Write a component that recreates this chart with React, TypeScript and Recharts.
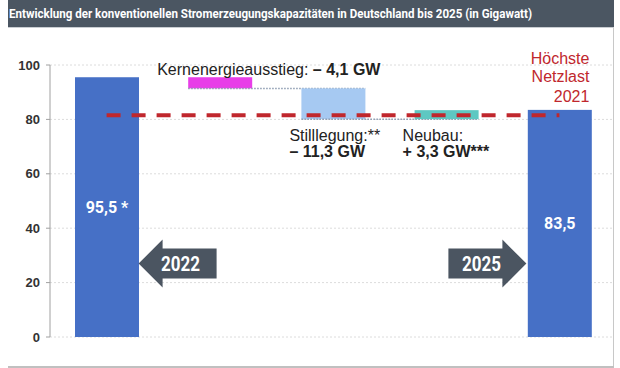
import { BarChart, Bar, XAxis, YAxis, CartesianGrid, Cell, LabelList, ReferenceLine, ReferenceDot } from "recharts";

const categories = ["2022", "Kernenergieausstieg", "Stilllegung", "Neubau", "2025"];
const start2022 = 95.5;
const end2025 = 83.5;
const stepChanges = [-4.1, -11.3, 3.3];
const stepTitles = ["Kernenergieausstieg: ", "Stilllegung:**", "Neubau:"];
const stepAmounts = ["– 4,1 GW", "– 11,3 GW", "+ 3,3 GW***"];
const totalLabels = ["95,5 *", "83,5"];
const yearArrows = [
  { year: "2022", y: 27 },
  { year: "2025", y: 27 },
];
const peakLoad2021 = 81.5;
const peakLoadLabel = ["Höchste", "Netzlast", "2021"];
const yTicks = [0, 20, 40, 60, 80, 100];
const barColors = ["#4670c6", "#e83ee8", "#a6c9f2", "#5ec8c2", "#4670c6"];
const title = "Entwicklung der konventionellen Stromerzeugungskapazitäten in Deutschland bis 2025 (in Gigawatt)";

// waterfall rows: invisible base + visible part
const rows = (() => {
  const out = [{ name: categories[0], base: 0, size: start2022 }];
  let level = start2022;
  stepChanges.forEach((c, i) => {
    const next = level + c;
    out.push({ name: categories[i + 1], base: Math.min(level, next), size: Math.abs(c) });
    level = next;
  });
  out.push({ name: categories[4], base: 0, size: end2025 });
  return out;
})();

const W = 620;
const H = 368;
const M = { top: 65, right: 4, bottom: 31, left: 0 };
const AXIS_W = 50;
const BAR = 64;
const band = (W - M.left - M.right - AXIS_W) / categories.length;

const cond = "Roboto, 'DejaVu Sans Condensed', sans-serif";
const sans = "'Liberation Sans', Arial, sans-serif";

function WaterfallShape(props: any) {
  const { x, y, width, height, index, fill } = props;
  const hasConnector = index >= 1 && index <= 2;
  const bottom = y + height;
  return (
    <g>
      <rect x={x} y={y} width={width} height={height} fill={fill} />
      {hasConnector && (
        <line x1={x} x2={x + width + band} y1={bottom} y2={bottom} stroke="#8a9ab0" strokeWidth={1.5} strokeDasharray="1.5 1.5" />
      )}
    </g>
  );
}

function renderLabels(props: any) {
  const { x, y, width, height, index } = props;
  if (index === 0 || index === 4) {
    const t = totalLabels[index === 0 ? 0 : 1];
    return (
      <text x={x + width / 2} y={y + height / 2 + 6} textAnchor="middle" fill="#fff" fontFamily={cond} fontWeight="bold" fontSize={16}>
        {t}
      </text>
    );
  }
  const i = index - 1;
  if (i === 0) {
    return (
      <text x={x - 31} y={y - 2} fill="#222" fontFamily={sans} fontSize={16}>
        <tspan>{stepTitles[i]}</tspan>
        <tspan fontWeight="bold">{stepAmounts[i]}</tspan>
      </text>
    );
  }
  const bottom = y + height;
  return (
    <text fill="#222" fontFamily={sans} fontSize={16}>
      <tspan x={x - 12} y={bottom + 22}>{stepTitles[i]}</tspan>
      <tspan x={x - 12} y={bottom + 38} fontWeight="bold">{stepAmounts[i]}</tspan>
    </text>
  );
}

function YearArrow(props: any) {
  const { cx, cy, dir, year } = props;
  const tip = dir < 0 ? cx + BAR / 2 : cx - BAR / 2 - 1;
  const headLen = 24;
  const bodyLen = 54;
  const neck = tip - dir * headLen;
  const tail = neck - dir * bodyLen;
  const pts = [
    [tip, cy],
    [neck, cy - 24],
    [neck, cy - 15],
    [tail, cy - 15],
    [tail, cy + 15],
    [neck, cy + 15],
    [neck, cy + 24],
  ]
    .map((p) => p.join(","))
    .join(" ");
  const textX = dir < 0 ? (tip + tail) / 2 + 3 : (tip + tail) / 2 - 6;
  return (
    <g>
      <polygon points={pts} fill="#4b5561" />
      <text
        x={textX}
        y={cy + 7}
        textAnchor="middle"
        fill="#fff"
        fontFamily={cond}
        fontWeight="bold"
        fontSize={20}
        textLength={39}
        lengthAdjust="spacingAndGlyphs"
      >
        {year}
      </text>
    </g>
  );
}

function PeakLabel(props: any) {
  const vb = props.viewBox || {};
  const right = vb.x + vb.width + 30;
  const ys = [-51, -33, -13];
  return (
    <text fill="#c0272d" fontFamily={sans} fontSize={16} textAnchor="end">
      {peakLoadLabel.map((l, i) => (
        <tspan key={l} x={right} y={vb.y + ys[i]}>
          {l}
        </tspan>
      ))}
    </text>
  );
}

export default function App() {
  return (
    <div style={{ position: "fixed", left: 0, top: 0, width: 620, height: H, background: "#fff" }}>
      <div style={{ position: "absolute", left: 0, top: 0 }}>
        <BarChart width={W} height={H} data={rows} margin={M} barSize={BAR}>
          <CartesianGrid vertical={false} stroke="#dcdcdc" strokeDasharray="2 2" />
          <XAxis dataKey="name" hide />
          <YAxis
            domain={[0, 100]}
            ticks={yTicks}
            width={AXIS_W}
            tickSize={4}
            tickMargin={6}
            stroke="#a0a0a0"
            tick={{ fill: "#333", fontSize: 13, fontWeight: "bold", fontFamily: sans }}
          />
          <Bar dataKey="base" stackId="w" fill="transparent" isAnimationActive={false} />
          <Bar dataKey="size" stackId="w" isAnimationActive={false} shape={WaterfallShape}>
            {rows.map((r, i) => (
              <Cell key={r.name} fill={barColors[i]} />
            ))}
            <LabelList dataKey="size" content={renderLabels} />
          </Bar>
          <ReferenceLine
            segment={[
              { x: categories[0], y: peakLoad2021 },
              { x: categories[4], y: peakLoad2021 },
            ]}
            stroke="#c0272d"
            strokeWidth={4}
            strokeDasharray="14 11"
            label={<PeakLabel />}
          />
          {yearArrows.map((a, i) => (
            <ReferenceDot
              key={a.year}
              x={a.year}
              y={a.y}
              shape={(p: any) => <YearArrow {...p} dir={i === 0 ? -1 : 1} year={a.year} />}
            />
          ))}
        </BarChart>
      </div>
      <div style={{ position: "absolute", left: 614, top: 27, width: 6, height: 341, background: "#fff" }} />
      <div style={{ position: "absolute", left: 613, top: 28, width: 1, height: 339, background: "#c8c8c8" }} />
      <div style={{ position: "absolute", left: 8, top: 366, width: 606, height: 2, background: "#c0c0c0" }} />
      <svg style={{ position: "absolute", left: 8, top: 0 }} width={606} height={28}>
        <rect x={0} y={0} width={606} height={27} fill="#4b5662" />
        <rect x={0} y={27} width={606} height={1} fill="#c9cdd2" />
        <text
          x={1}
          y={18}
          fill="#fff"
          fontFamily={cond}
          fontWeight="bold"
          fontSize={13}
          textLength={523}
          lengthAdjust="spacingAndGlyphs"
        >
          {title}
        </text>
      </svg>
    </div>
  );
}
